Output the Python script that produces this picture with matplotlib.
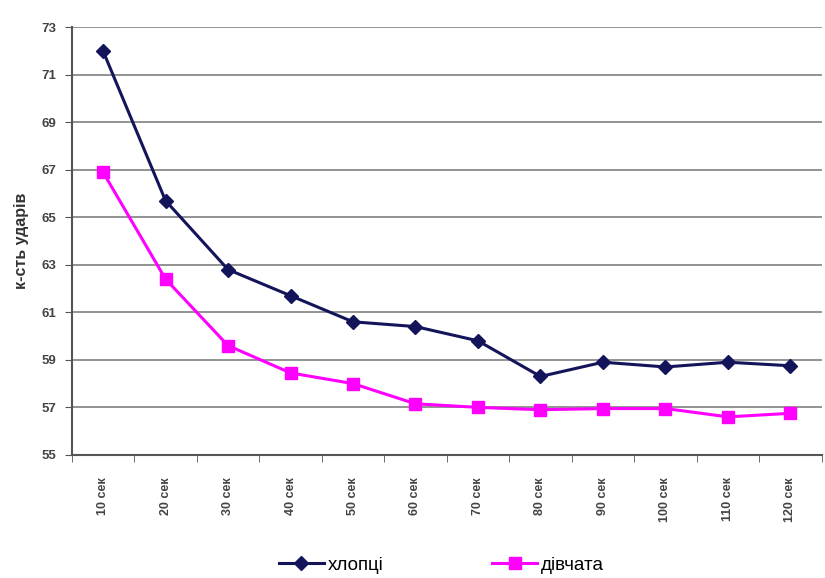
import numpy as np
import matplotlib.pyplot as plt

# Дані
periods = ["10 сек", "20 сек", "30 сек", "40 сек", "50 сек", "60 сек",
           "70 сек", "80 сек", "90 сек", "100 сек", "110 сек", "120 сек"]
boys = [72.0, 65.7, 62.8, 61.7, 60.6, 60.4, 59.8, 58.3, 58.9, 58.7, 58.9, 58.75]
girls = [66.9, 62.4, 59.6, 58.45, 58.0, 57.15, 57.0, 56.9, 56.95, 56.95, 56.6, 56.75]
yticks = [55, 57, 59, 61, 63, 65, 67, 69, 71, 73]

plt.rcParams['font.family'] = ['Liberation Sans', 'DejaVu Sans']

fig = plt.figure(figsize=(8.25, 5.78), dpi=100)
ax = fig.add_axes([0.087, 0.213, 0.909, 0.74])

x = np.arange(len(periods))
ax.plot(x, boys, color="#14145a", lw=2.2, marker="D", ms=7, label="хлопці")
ax.plot(x, girls, color="#ff00ff", lw=2.2, marker="s", ms=9, label="дівчата")

ax.set_xlim(-0.5, len(periods) - 0.5)
ax.set_ylim(55, 73)
ax.set_yticks(yticks)
ax.set_yticklabels([str(v) for v in yticks], fontsize=9.5, fontweight="bold", color="#444444")
ax.set_xticks(x)
ax.set_xticklabels(periods, rotation=90, fontsize=9, fontweight="bold", color="#444444")
ax.set_xticks(np.arange(-0.5, len(periods)), minor=True)
ax.tick_params(axis="x", which="major", length=0, pad=16)
ax.tick_params(axis="x", which="minor", length=5, color="#555555")
ax.tick_params(axis="y", length=5, color="#555555", pad=6)

ax.grid(axis="y", color="#808080", lw=1.2)
ax.set_axisbelow(True)
for s in ["top", "right"]:
    ax.spines[s].set_visible(False)
for s in ["left", "bottom"]:
    ax.spines[s].set_color("#555555")
    ax.spines[s].set_linewidth(1.5)

ax.set_ylabel("к-сть ударів", fontsize=11.5, fontweight="bold", labelpad=9, color="#333333")

fig.legend(loc="lower center", bbox_to_anchor=(0.535, -0.022), ncol=2,
           frameon=False, fontsize=13.5, handlelength=2.4, handletextpad=0.2,
           columnspacing=5.8)

fig.savefig("out.png", dpi=100)
